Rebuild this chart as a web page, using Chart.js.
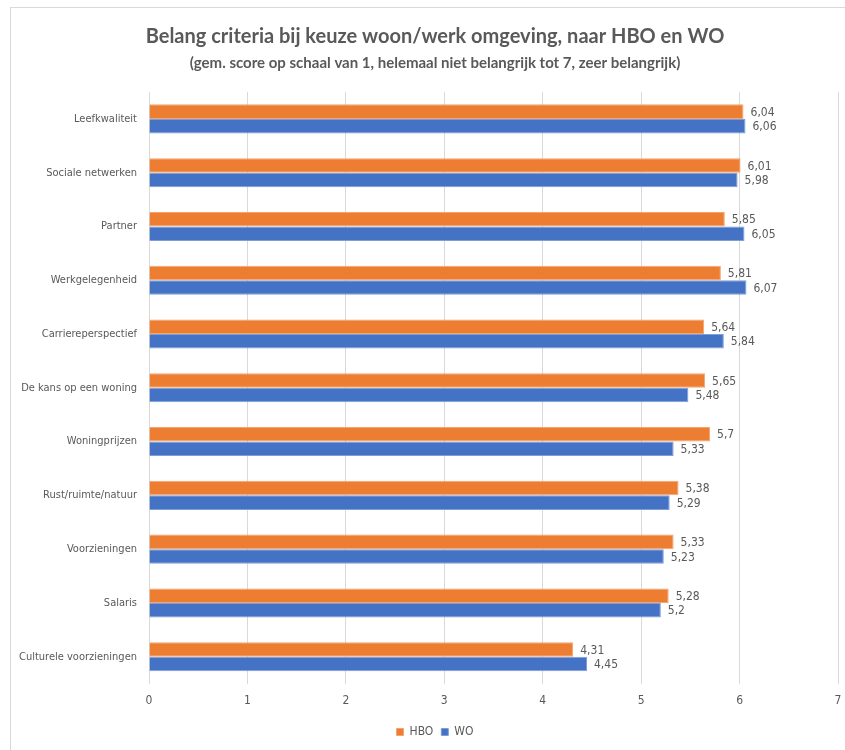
<!DOCTYPE html>
<html>
<head>
<meta charset="utf-8">
<script src="https://cdn.jsdelivr.net/npm/chart.js@4.4.1/dist/chart.umd.min.js"></script>
<style>
	html, body { margin: 0; padding: 0; background: #fff; overflow: hidden; }
	#wrap { position: relative; width: 845px; height: 750px; overflow: hidden; }
	#frame { position: absolute; left: 10px; top: 7px; right: -2px; bottom: -2px; border-top: 1px solid #d9d9d9; border-left: 1px solid #d9d9d9; }
	canvas { position: absolute; left: 0; top: 0; }
</style>
</head>
<body>
<div id="wrap">
	<div id="frame"></div>
	<canvas id="belangChart" width="845" height="750"></canvas>
</div>
<script>
const categorieen = ['Leefkwaliteit', 'Sociale netwerken', 'Partner', 'Werkgelegenheid', 'Carriereperspectief',
	'De kans op een woning', 'Woningprijzen', 'Rust/ruimte/natuur', 'Voorzieningen', 'Salaris', 'Culturele voorzieningen'];
const hbo = [6.04, 6.01, 5.85, 5.81, 5.64, 5.65, 5.7, 5.38, 5.33, 5.28, 4.31];
const wo = [6.06, 5.98, 6.05, 6.07, 5.84, 5.48, 5.33, 5.29, 5.23, 5.2, 4.45];
const xTicks = [0, 1, 2, 3, 4, 5, 6, 7];

const titelFont = 'Lato, "Liberation Sans", sans-serif';
const fontFam = '"DejaVu Sans Condensed", "Liberation Sans", sans-serif';
const grijs = '#595959';

// waarden rechts naast de balken, met komma
const labelPlugin = {
	id: 'waardeLabels',
	afterDatasetsDraw(chart) {
		const ctx = chart.ctx;
		ctx.save();
		ctx.font = '12px ' + fontFam;
		ctx.fillStyle = grijs;
		ctx.textAlign = 'left';
		ctx.textBaseline = 'middle';
		chart.data.datasets.forEach((ds, i) => {
			chart.getDatasetMeta(i).data.forEach((bar, j) => {
				const txt = ds.data[j].toString().replace('.', ',');
				ctx.fillText(txt, bar.x + 7, bar.y + 1);
			});
		});
		ctx.restore();
	}
};

// titels en legenda iets naar rechts centreren (zoals in het origineel)
const centreerPlugin = {
	id: 'centreer',
	afterLayout(chart) {
		chart.boxes.forEach(box => {
			if (box === chart.legend || (box.options && box.options.text !== undefined)) {
				box.left += 32;
			}
		});
	}
};

new Chart(document.getElementById('belangChart').getContext('2d'), {
	type: 'bar',
	data: {
		labels: categorieen,
		datasets: [
			{
				label: 'HBO',
				data: hbo,
				backgroundColor: '#ED7D31',
				borderColor: '#F4A46F',
				borderWidth: 1,
				categoryPercentage: 0.54,
				barPercentage: 1
			},
			{
				label: 'WO',
				data: wo,
				backgroundColor: '#4472C4',
				borderColor: '#7F9DD6',
				borderWidth: 1,
				categoryPercentage: 0.54,
				barPercentage: 1
			}
		]
	},
	options: {
		indexAxis: 'y',
		responsive: false,
		animation: false,
		layout: { padding: { left: 0, right: 7, top: 25, bottom: 2 } },
		plugins: {
			title: {
				display: true,
				text: 'Belang criteria bij keuze woon/werk omgeving, naar HBO en WO',
				color: grijs,
				font: { family: titelFont, size: 20, weight: 'bold' },
				padding: { top: 0, bottom: 5 }
			},
			subtitle: {
				display: true,
				text: '(gem. score op schaal van 1, helemaal niet belangrijk tot 7, zeer belangrijk)',
				color: grijs,
				font: { family: titelFont, size: 15, weight: 'bold' },
				padding: { top: 0, bottom: 20 }
			},
			legend: {
				display: true,
				position: 'bottom',
				labels: {
					boxWidth: 7,
					boxHeight: 7,
					color: grijs,
					font: { family: fontFam, size: 12 },
					padding: 8
				}
			},
			tooltip: { enabled: false }
		},
		scales: {
			x: {
				min: 0,
				max: 7,
				afterBuildTicks(axis) { axis.ticks = xTicks.map(v => ({ value: v })); },
				afterFit(axis) { axis.paddingRight = 0; axis.paddingLeft = 0; },
				grid: { color: '#d9d9d9', drawTicks: false },
				border: { display: false },
				ticks: { color: grijs, font: { family: fontFam, size: 12 }, padding: 10 }
			},
			y: {
				afterFit(axis) { axis.width = 149; },
				grid: { display: false },
				border: { display: false },
				ticks: { color: grijs, font: { family: fontFam, size: 11 }, padding: 4 }
			}
		}
	},
	plugins: [labelPlugin, centreerPlugin]
});
</script>
</body>
</html>
